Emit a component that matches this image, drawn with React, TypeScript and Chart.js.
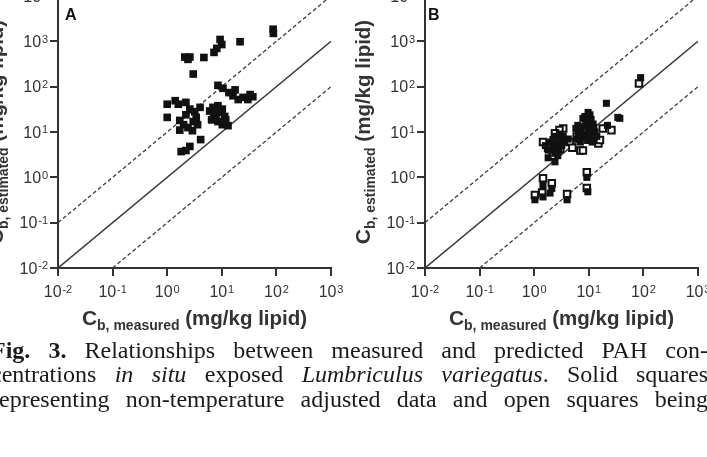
import React, { useEffect, useRef } from 'react';
import { Chart, registerables } from 'chart.js';

Chart.register(...registerables);

type Pt = [number, number];

// Axis decades (log scales)
const X_TICKS = [0.01, 0.1, 1, 10, 100, 1000];
const Y_TICKS = [0.01, 0.1, 1, 10, 100, 1000, 10000];

// Reference lines: 1:1 and tenfold over/under estimation
const ONE_TO_ONE: Pt[] = [[0.01, 0.01], [1000, 1000]];
const TENFOLD_OVER: Pt[] = [[0.01, 0.1], [1000, 10000]];
const TENFOLD_UNDER: Pt[] = [[0.1, 0.01], [1000, 100]];

// Panel A: measured vs estimated body residues (mg/kg lipid)
const A_SOLID: Pt[] = [
  [87, 1850], [88, 1500], [9.3, 1100], [10, 850], [8.1, 700], [7.2, 570], [21.6, 980],
  [2.1, 450], [2.6, 450], [2.4, 400], [4.7, 440], [3.0, 190], [8.5, 107], [10.5, 92],
  [13.5, 74], [16, 63], [20, 52], [24.5, 58], [30, 52], [37, 60], [33, 67], [17.5, 85],
  [1.0, 41], [1.4, 49], [1.6, 41], [2.2, 45], [1.0, 21], [1.7, 18], [2.2, 24], [2.6, 32],
  [3.2, 28], [4.0, 35], [2.0, 14.5], [2.4, 12.5], [3.0, 17], [3.6, 14.5], [1.7, 11],
  [3.4, 21], [2.9, 10.7], [6.9, 35], [8.5, 38], [10.2, 32], [7.1, 24], [9.2, 27],
  [11.3, 22], [6.5, 18.5], [8.5, 17], [11.8, 18.5], [10.2, 14.5], [13, 13.8], [6.0, 29],
  [7.8, 21], [1.8, 3.7], [2.2, 3.9], [2.6, 4.8], [4.1, 6.8],
];

// Panel B: non-temperature adjusted (solid) and temperature adjusted (open)
const B_SOLID: Pt[] = [
  [89, 158], [21, 43], [34, 21], [37, 20], [22, 14], [9.7, 27], [10.5, 24], [8.5, 22],
  [7.8, 20], [11, 19], [9, 16], [12, 15], [6.3, 14], [8, 13], [10, 12], [7, 11], [13, 10],
  [9, 9], [6.5, 9], [11, 8], [8, 7.5], [14, 8], [7, 6], [5.8, 12], [2.9, 9], [2.4, 8],
  [3.4, 8], [2.0, 6], [2.6, 5.5], [3.2, 5], [2.2, 4.5], [1.8, 4], [2.8, 4], [2.4, 3.4],
  [1.8, 2.7], [2.4, 2.2], [3.6, 6], [4.2, 7], [1.6, 5], [9.5, 18], [8.8, 14], [10.5, 10],
  [12, 11], [7.5, 9], [9.5, 6.5], [6, 7], [11.5, 6], [3, 6.5], [2.2, 6.8], [2.7, 3],
  [9.2, 1.0], [9.6, 0.48], [4.0, 0.32], [1.45, 0.66], [2.1, 0.57], [1.95, 0.45],
  [1.45, 0.37], [1.03, 0.32],
];
const B_OPEN: Pt[] = [
  [83, 117], [26, 11], [18, 12], [7, 3.9], [15, 5.6], [11, 7], [16, 6.7], [7.8, 3.9],
  [12, 12], [9, 10], [6, 8], [3.4, 12], [2.9, 11], [2.4, 9.4], [1.45, 6], [2.6, 6.5],
  [2.0, 5.2], [3.0, 4.2], [2.2, 3], [4.5, 6], [5, 4.5], [1.8, 4.5],
  [9.2, 1.3], [9.2, 0.58], [4.0, 0.43], [1.45, 0.96], [2.1, 0.74], [1.4, 0.46], [1.03, 0.41],
];

const INK = '#111';
const AXIS = '#333';
const SANS = '"Liberation Sans", Arial, sans-serif';

const CANVAS_TOP = -40;
const CANVAS_H = 380;
const PLOT_TOP = 36;
const PLOT_BOTTOM = 308;

type Run = { text: string; font: string; dy: number };

function runsWidth(ctx: CanvasRenderingContext2D, runs: Run[]) {
  let w = 0;
  for (const r of runs) {
    ctx.font = r.font;
    w += ctx.measureText(r.text).width;
  }
  return w;
}

function drawRuns(ctx: CanvasRenderingContext2D, runs: Run[], x: number, y: number) {
  let cx = x;
  for (const r of runs) {
    ctx.font = r.font;
    ctx.fillText(r.text, cx, y + r.dy);
    cx += ctx.measureText(r.text).width;
  }
}

function powerRuns(v: number): Run[] {
  const e = Math.round(Math.log10(v));
  return [
    { text: '10', font: `16px ${SANS}`, dy: 0 },
    { text: ' ', font: `3px ${SANS}`, dy: 0 },
    { text: String(e), font: `11px ${SANS}`, dy: -4.5 },
  ];
}

const TITLE_C = `bold 21px ${SANS}`;
const TITLE_SUB = `bold 14px ${SANS}`;
const TITLE_UNIT = `bold 20.5px ${SANS}`;

const axisTextPlugin = {
  id: 'axisText',
  afterDraw(chart: any, _args: any, opts: any) {
    const { ctx, chartArea, scales } = chart;
    const xs = scales.x;
    const ys = scales.y;
    ctx.save();
    ctx.fillStyle = AXIS;
    ctx.textAlign = 'left';
    ctx.textBaseline = 'alphabetic';

    // y tick labels, right aligned next to the tick marks
    for (const v of Y_TICKS) {
      const py = ys.getPixelForValue(v);
      const runs = powerRuns(v);
      const w = runsWidth(ctx, runs);
      drawRuns(ctx, runs, chartArea.left - 10 - w, py + 5.8);
    }
    // x tick labels, centred under the tick marks
    for (const v of X_TICKS) {
      const px = xs.getPixelForValue(v);
      const runs = powerRuns(v);
      const w = runsWidth(ctx, runs);
      drawRuns(ctx, runs, px - w / 2, chartArea.bottom + 29);
    }

    // x title
    const xTitle: Run[] = [
      { text: 'C', font: TITLE_C, dy: 0 },
      { text: 'b, measured', font: TITLE_SUB, dy: 5 },
      { text: ' (mg/kg lipid)', font: TITLE_UNIT, dy: 0 },
    ];
    const cx = (chartArea.left + chartArea.right) / 2;
    const xw = runsWidth(ctx, xTitle);
    drawRuns(ctx, xTitle, cx - xw / 2, chartArea.bottom + 57);

    // y title, rotated
    const yTitle: Run[] = [
      { text: 'C', font: TITLE_C, dy: 0 },
      { text: 'b, estimated', font: TITLE_SUB, dy: 5 },
      { text: ' (mg/kg lipid)', font: TITLE_UNIT, dy: 0 },
    ];
    const cy = (chartArea.top + chartArea.bottom) / 2;
    const yw = runsWidth(ctx, yTitle);
    ctx.save();
    ctx.translate(chartArea.left - 55, cy);
    ctx.rotate(-Math.PI / 2);
    drawRuns(ctx, yTitle, -yw / 2, 0);
    ctx.restore();

    // panel letter
    ctx.fillStyle = INK;
    ctx.font = `bold 16px ${SANS}`;
    ctx.fillText(opts.letter, chartArea.left + opts.letterOffset, chartArea.top + 24);
    ctx.restore();
  },
};

type SeriesSpec = {
  data: Pt[];
  fill: string;
  stroke: string;
  strokeWidth: number;
  radius: number;
  order: number;
};

function lineDataset(data: Pt[], dashed: boolean) {
  return {
    data: data.map(([x, y]) => ({ x, y })),
    showLine: true,
    borderColor: '#3c3c3c',
    borderWidth: dashed ? 1.3 : 1.5,
    borderDash: dashed ? [4, 2.5] : [],
    pointRadius: 0,
    order: 5,
  };
}

function ScatterPanel(props: {
  letter: string;
  left: number;
  width: number;
  plotLeft: number;
  plotRight: number;
  letterOffset: number;
  series: SeriesSpec[];
}) {
  const ref = useRef<HTMLCanvasElement>(null);

  useEffect(() => {
    if (!ref.current) return;
    const datasets: any[] = [
      ...props.series.map((s) => ({
        data: s.data.map(([x, y]) => ({ x, y })),
        pointStyle: 'rect',
        pointRadius: s.radius,
        backgroundColor: s.fill,
        borderColor: s.stroke,
        borderWidth: s.strokeWidth,
        order: s.order,
      })),
      lineDataset(TENFOLD_OVER, true),
      lineDataset(ONE_TO_ONE, false),
      lineDataset(TENFOLD_UNDER, true),
    ];

    const chart = new Chart(ref.current, {
      type: 'scatter',
      data: { datasets },
      plugins: [axisTextPlugin],
      options: {
        responsive: false,
        animation: false,
        events: [],
        layout: {
          padding: {
            left: 0,
            top: PLOT_TOP,
            right: props.width - props.plotRight,
            bottom: 0,
          },
        },
        plugins: {
          legend: { display: false },
          tooltip: { enabled: false },
          axisText: { letter: props.letter, letterOffset: props.letterOffset },
        } as any,
        scales: {
          x: {
            type: 'logarithmic',
            min: 0.01,
            max: 1000,
            afterBuildTicks: (scale: any) => {
              scale.ticks = X_TICKS.map((value) => ({ value }));
            },
            afterFit: (scale: any) => {
              scale.height = CANVAS_H - PLOT_BOTTOM;
            },
            ticks: { display: false },
            grid: {
              display: true,
              drawOnChartArea: false,
              drawTicks: true,
              tickLength: 8,
              color: AXIS,
              lineWidth: 2,
            },
            border: { display: true, color: AXIS, width: 2 },
          },
          y: {
            type: 'logarithmic',
            min: 0.01,
            max: 10000,
            afterBuildTicks: (scale: any) => {
              scale.ticks = Y_TICKS.map((value) => ({ value }));
            },
            afterFit: (scale: any) => {
              scale.width = props.plotLeft;
            },
            ticks: { display: false },
            grid: {
              display: true,
              drawOnChartArea: false,
              drawTicks: true,
              tickLength: 8,
              color: AXIS,
              lineWidth: 2,
            },
            border: { display: true, color: AXIS, width: 2 },
          },
        },
      } as any,
    });
    return () => chart.destroy();
  }, []);

  return (
    <div
      style={{
        position: 'absolute',
        left: props.left,
        top: CANVAS_TOP,
        width: props.width,
        height: CANVAS_H,
      }}
    >
      <canvas ref={ref} width={props.width} height={CANVAS_H} style={{ display: 'block' }} />
    </div>
  );
}

const lineStyle: React.CSSProperties = {
  textAlign: 'justify',
  textAlignLast: 'justify',
  whiteSpace: 'nowrap',
  height: 24.5,
};

function Caption() {
  return (
    <div
      style={{
        position: 'absolute',
        left: -9,
        top: 337.5,
        width: 717,
        fontFamily: '"Liberation Serif", "Times New Roman", serif',
        fontSize: 24,
        lineHeight: '24.5px',
        color: '#1a1a1a',
      }}
    >
      <div style={lineStyle}>
        <b>Fig. 3.</b> Relationships between measured and predicted PAH con-
      </div>
      <div style={lineStyle}>
        centrations <i>in situ</i> exposed <i>Lumbriculus variegatus</i>. Solid squares
      </div>
      <div style={lineStyle}>
        representing non-temperature adjusted data and open squares being
      </div>
    </div>
  );
}

export default function App() {
  return (
    <div
      style={{
        position: 'fixed',
        left: 0,
        top: 0,
        width: 707,
        height: 457,
        overflow: 'hidden',
        background: '#fff',
      }}
    >
      <ScatterPanel
        letter="A"
        left={0}
        width={350}
        plotLeft={58}
        plotRight={331}
        letterOffset={7}
        series={[{ data: A_SOLID, fill: INK, stroke: INK, strokeWidth: 0, radius: 5.4, order: 0 }]}
      />
      <ScatterPanel
        letter="B"
        left={350}
        width={357}
        plotLeft={75}
        plotRight={348}
        letterOffset={3}
        series={[
          { data: B_SOLID, fill: INK, stroke: INK, strokeWidth: 0, radius: 5.0, order: 0 },
          { data: B_OPEN, fill: '#fff', stroke: INK, strokeWidth: 2, radius: 4.6, order: 1 },
        ]}
      />
      <Caption />
    </div>
  );
}
